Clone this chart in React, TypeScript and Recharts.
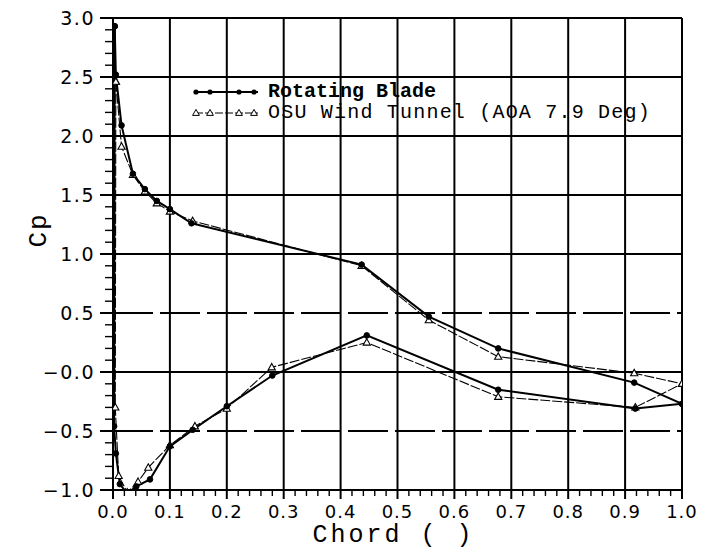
import React from 'react';
import { LineChart, Line, XAxis, YAxis, ReferenceLine, Legend } from 'recharts';

// Rotating blade (filled circles)
const bladeUpperX = [0.003, 0.005, 0.015, 0.035, 0.056, 0.077, 0.1, 0.138, 0.437, 0.555, 0.677, 0.916, 1.0];
const bladeUpperCp = [2.93, 2.52, 2.09, 1.68, 1.55, 1.45, 1.38, 1.26, 0.91, 0.47, 0.2, -0.09, -0.27];
const bladeLowerX = [0.003, 0.002, 0.005, 0.012, 0.025, 0.041, 0.065, 0.1, 0.14, 0.2, 0.28, 0.446, 0.677, 0.918, 1.0];
const bladeLowerCp = [2.93, -0.46, -0.69, -0.95, -1.03, -0.97, -0.91, -0.63, -0.49, -0.29, -0.03, 0.31, -0.15, -0.31, -0.27];

// OSU wind tunnel (open triangles)
const osuUpperX = [0.005, 0.015, 0.035, 0.056, 0.077, 0.1, 0.14, 0.437, 0.555, 0.677, 0.916, 1.0];
const osuUpperCp = [2.46, 1.91, 1.67, 1.53, 1.43, 1.36, 1.28, 0.9, 0.44, 0.13, -0.01, -0.1];
const osuLowerX = [0.005, 0.004, 0.01, 0.025, 0.044, 0.062, 0.1, 0.144, 0.2, 0.279, 0.446, 0.677, 0.918, 1.0];
const osuLowerCp = [2.46, -0.3, -0.88, -1.02, -0.93, -0.81, -0.62, -0.46, -0.31, 0.04, 0.25, -0.21, -0.3, -0.1];

// Axis ticks / grid
const xMinorTicks = [0, 0.02, 0.04, 0.06, 0.08, 0.1, 0.12, 0.14, 0.16, 0.18, 0.2, 0.22, 0.24, 0.26, 0.28, 0.3, 0.32, 0.34, 0.36, 0.38, 0.4, 0.42, 0.44, 0.46, 0.48, 0.5, 0.52, 0.54, 0.56, 0.58, 0.6, 0.62, 0.64, 0.66, 0.68, 0.7, 0.72, 0.74, 0.76, 0.78, 0.8, 0.82, 0.84, 0.86, 0.88, 0.9, 0.92, 0.94, 0.96, 0.98, 1.0];
const xMajorLabels = ['0.0', '0.1', '0.2', '0.3', '0.4', '0.5', '0.6', '0.7', '0.8', '0.9', '1.0'];
const yMinorTicks = [-1, -0.9, -0.8, -0.7, -0.6, -0.5, -0.4, -0.3, -0.2, -0.1, 0, 0.1, 0.2, 0.3, 0.4, 0.5, 0.6, 0.7, 0.8, 0.9, 1, 1.1, 1.2, 1.3, 1.4, 1.5, 1.6, 1.7, 1.8, 1.9, 2, 2.1, 2.2, 2.3, 2.4, 2.5, 2.6, 2.7, 2.8, 2.9, 3];
const yMajorValues = [-1, -0.5, 0, 0.5, 1, 1.5, 2, 2.5, 3];
const yMajorLabels = ['\u22121.0', '\u22120.5', '\u22120.0', '0.5', '1.0', '1.5', '2.0', '2.5', '3.0'];
const xGrid = [0.1, 0.2, 0.3, 0.4, 0.5, 0.6, 0.7, 0.8, 0.9, 1.0];
const yGridSolid = [0, 1, 1.5, 2, 2.5, 3];
const yGridDashed = [0.5, -0.5];

const zip = (xs: number[], ys: number[]) => xs.map((x, i) => ({ x, cp: ys[i] }));
const bladeUpper = zip(bladeUpperX, bladeUpperCp);
const bladeLower = zip(bladeLowerX, bladeLowerCp);
const osuUpper = zip(osuUpperX, osuUpperCp);
const osuLower = zip(osuLowerX, osuLowerCp);

const tickFont = '"DejaVu Sans", sans-serif';
const monoFont = '"Liberation Mono", "DejaVu Sans Mono", monospace';

const XTick = (props: any) => {
  const { x, y, payload } = props;
  const v = payload.value;
  const idx = Math.round(v * 10);
  const major = Math.abs(v * 10 - idx) < 1e-6;
  return (
    <g>
      <line x1={x} x2={x} y1={y} y2={y + (major ? 9 : 6)} stroke="#000" strokeWidth={major ? 2 : 1.4} />
      {major && (
        <text x={x} y={y + 28} textAnchor="middle" fontFamily={tickFont} fontSize={18} letterSpacing={1} fill="#000">
          {xMajorLabels[idx]}
        </text>
      )}
    </g>
  );
};

const YTick = (props: any) => {
  const { x, y, payload } = props;
  const v = payload.value;
  const mi = yMajorValues.findIndex((m) => Math.abs(m - v) < 1e-6);
  const major = mi >= 0;
  return (
    <g>
      <line x1={x} x2={x - (major ? 13 : 8)} y1={y} y2={y} stroke="#000" strokeWidth={major ? 2 : 1.4} />
      {major && (
        <text x={x - 18} y={y} dy="0.36em" textAnchor="end" fontFamily={tickFont} fontSize={19} letterSpacing={1.5} fill="#000">
          {yMajorLabels[mi]}
        </text>
      )}
    </g>
  );
};

const Dot = (props: any) => {
  const { cx, cy } = props;
  if (cx == null || cy == null) return null;
  return <circle cx={cx} cy={cy} r={2.8} fill="#000" stroke="#000" strokeWidth={1} />;
};

const Tri = (props: any) => {
  const { cx, cy } = props;
  if (cx == null || cy == null) return null;
  return (
    <path d={`M${cx},${cy - 3.8} L${cx + 3.6},${cy + 2.6} L${cx - 3.6},${cy + 2.6} Z`} fill="#fff" stroke="#000" strokeWidth={1.1} />
  );
};

const LegendContent = () => (
  <div style={{ fontFamily: monoFont, fontSize: 20, lineHeight: '21px', color: '#000', whiteSpace: 'nowrap' }}>
    <div style={{ display: 'flex', alignItems: 'center' }}>
      <svg width={70} height={12} style={{ display: 'block' }}>
        <line x1={3} x2={66} y1={6} y2={6} stroke="#000" strokeWidth={2} />
        {[4, 18, 47, 62].map((cx) => (
          <circle key={cx} cx={cx} cy={6} r={2.6} fill="#000" />
        ))}
      </svg>
      <span style={{ fontWeight: 'bold', marginLeft: 6 }}>Rotating Blade</span>
    </div>
    <div style={{ display: 'flex', alignItems: 'center' }}>
      <svg width={70} height={12} style={{ display: 'block' }}>
        <line x1={3} x2={66} y1={6} y2={6} stroke="#000" strokeWidth={1.1} strokeDasharray="8 2" />
        {[4, 18, 47, 62].map((cx) => (
          <path key={cx} d={`M${cx},2.4 L${cx + 3.4},8.4 L${cx - 3.4},8.4 Z`} fill="#fff" stroke="#000" strokeWidth={1} />
        ))}
      </svg>
      <span style={{ marginLeft: 6, letterSpacing: 1.2 }}>OSU Wind Tunnel (AOA 7.9 Deg)</span>
    </div>
  </div>
);

export default function App() {
  return (
    <div style={{ width: 700, height: 544, background: '#fff' }}>
      <LineChart width={700} height={544} margin={{ top: 10, right: 26, left: 0, bottom: 0 }}>
        {xGrid.map((v) => (
          <ReferenceLine key={'vx' + v} x={v} stroke="#000" strokeWidth={2} />
        ))}
        {yGridSolid.map((v) => (
          <ReferenceLine key={'hs' + v} y={v} stroke="#000" strokeWidth={2} />
        ))}
        {yGridDashed.map((v) => (
          <ReferenceLine key={'hd' + v} y={v} stroke="#000" strokeWidth={2} strokeDasharray="40 7" />
        ))}
        <XAxis
          dataKey="x"
          type="number"
          domain={[0, 1]}
          ticks={xMinorTicks}
          interval={0}
          tickSize={0}
          tickMargin={0}
          tickLine={false}
          tick={<XTick />}
          axisLine={{ stroke: '#000', strokeWidth: 2 }}
          height={62}
          allowDataOverflow
          label={{
            content: (p: any) => {
              const vb = p.viewBox || {};
              return (
                <text x={vb.x + vb.width / 2 - 4} y={vb.y + 52} textAnchor="middle" fontFamily={monoFont} fontSize={25} letterSpacing={3} fill="#000">
                  Chord ( )
                </text>
              );
            },
          }}
        />
        <YAxis
          type="number"
          domain={[-1, 3]}
          ticks={yMinorTicks}
          interval={0}
          tickSize={0}
          tickMargin={0}
          tickLine={false}
          tick={<YTick />}
          axisLine={{ stroke: '#000', strokeWidth: 2 }}
          width={105}
          allowDataOverflow
          label={{
            content: () => (
              <text x={38} y={222} transform="rotate(-90 38 222)" textAnchor="middle" fontFamily={monoFont} fontSize={26} letterSpacing={2} fill="#000">
                Cp
              </text>
            ),
          }}
        />
        <Legend
          layout="vertical"
          align="center"
          verticalAlign="middle"
          wrapperStyle={{ top: 73, left: 184, width: 'auto', height: 'auto' }}
          content={<LegendContent />}
        />
        <Line data={osuUpper} dataKey="cp" type="linear" stroke="#000" strokeWidth={1.1} strokeDasharray="10 2" dot={<Tri />} activeDot={false} isAnimationActive={false} />
        <Line data={osuLower} dataKey="cp" type="linear" stroke="#000" strokeWidth={1.1} strokeDasharray="10 2" dot={<Tri />} activeDot={false} isAnimationActive={false} />
        <Line data={bladeUpper} dataKey="cp" type="linear" stroke="#000" strokeWidth={2} dot={<Dot />} activeDot={false} isAnimationActive={false} />
        <Line data={bladeLower} dataKey="cp" type="linear" stroke="#000" strokeWidth={2} dot={<Dot />} activeDot={false} isAnimationActive={false} />
      </LineChart>
    </div>
  );
}
